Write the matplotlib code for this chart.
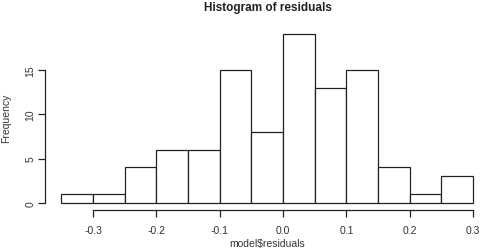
import matplotlib
matplotlib.use("Agg")
import matplotlib.pyplot as plt
import numpy as np

# histogram of residuals, bins of width 0.05
bin_edges = [-0.35, -0.30, -0.25, -0.20, -0.15, -0.10, -0.05, 0.00,
             0.05, 0.10, 0.15, 0.20, 0.25, 0.30]
counts = [1, 1, 4, 6, 6, 15, 8, 19, 13, 15, 4, 1, 3]
x_ticks = [-0.3, -0.2, -0.1, 0.0, 0.1, 0.2, 0.3]
x_tick_labels = ["-0.3", "-0.2", "-0.1", "0.0", "0.1", "0.2", "0.3"]
y_ticks = [0, 5, 10, 15]

plt.rcParams["font.family"] = ["Liberation Sans", "DejaVu Sans"]

fig = plt.figure(figsize=(4.89, 2.51), dpi=100)
ax = fig.add_axes([0.092, 0.161, 0.909, 0.725])

edges = np.array(bin_edges)
ax.bar(edges[:-1], counts, width=np.diff(edges), align="edge",
       facecolor="white", edgecolor="#222222", linewidth=0.9)

# R style extended range (4% each side)
xr = edges[-1] - edges[0]
ax.set_xlim(edges[0] - 0.04 * xr, edges[-1] + 0.04 * xr)
ax.set_ylim(-0.04 * max(counts), max(counts) * 1.04)

for s in ["top", "right"]:
    ax.spines[s].set_visible(False)
ax.spines["left"].set_bounds(0, 15)
ax.spines["bottom"].set_bounds(-0.3, 0.3)
for s in ["left", "bottom"]:
    ax.spines[s].set_linewidth(0.9)
    ax.spines[s].set_color("#222222")

ax.set_xticks(x_ticks)
ax.set_xticklabels(x_tick_labels)
ax.set_yticks(y_ticks)
ax.set_yticklabels([str(v) for v in y_ticks], rotation=90, va="center")
ax.tick_params(length=5, width=0.9, color="#222222", labelsize=7.5,
               labelcolor="#333333")
ax.tick_params(axis="x", pad=6)
ax.tick_params(axis="y", pad=2)

fig.text(0.547, 0.968, "Histogram of residuals", ha="center", va="center",
         fontsize=8.5, fontweight="bold", color="#222222")
fig.text(0.003, 0.53, "Frequency", rotation=90, ha="left", va="center",
         fontsize=7.5, color="#333333")
fig.text(0.547, 0.028, r"model\$residuals", ha="center", va="center",
         fontsize=7.5, color="#333333")

fig.savefig("out.png", dpi=100)
